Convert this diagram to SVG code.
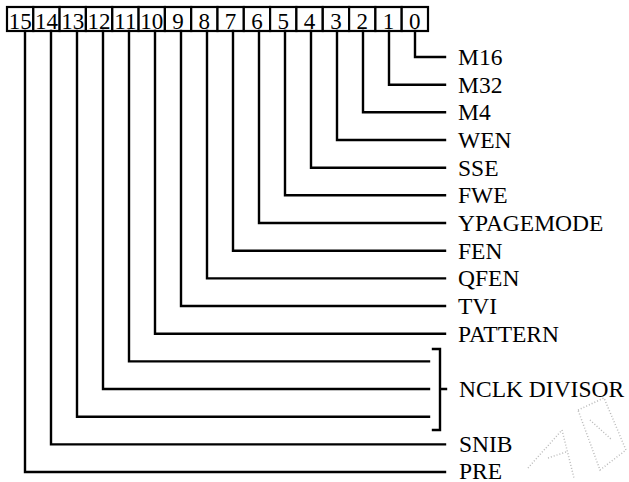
<svg xmlns="http://www.w3.org/2000/svg" width="629" height="482" viewBox="0 0 629 482">
<style>
.box{fill:#fff;stroke:#000;stroke-width:2.2}
.dig{font-size:23px;text-anchor:middle;fill:#000}
.lbl{font-size:23.5px;fill:#000}
.w{fill:none;stroke:#000;stroke-width:2.4;stroke-linecap:square}
.wm{fill:none;stroke:#bbb;stroke-width:1.5;stroke-dasharray:1 2}
</style>
<rect width="629" height="482" fill="#fff"/>
<g id="register" font-family="Liberation Serif, Times New Roman, Tinos, Times, Noto Serif, DejaVu Serif, serif">
<g id="b15"><rect class="box" x="7" y="7" width="26.3" height="24"/><text class="dig" x="20.2" y="28.5">15</text></g>
<g id="b14"><rect class="box" x="33.3" y="7" width="26.3" height="24"/><text class="dig" x="46.5" y="28.5">14</text></g>
<g id="b13"><rect class="box" x="59.6" y="7" width="26.3" height="24"/><text class="dig" x="72.8" y="28.5">13</text></g>
<g id="b12"><rect class="box" x="85.9" y="7" width="26.3" height="24"/><text class="dig" x="99.1" y="28.5">12</text></g>
<g id="b11"><rect class="box" x="112.3" y="7" width="26.3" height="24"/><text class="dig" x="125.4" y="28.5">11</text></g>
<g id="b10"><rect class="box" x="138.6" y="7" width="26.3" height="24"/><text class="dig" x="151.7" y="28.5">10</text></g>
<g id="b9"><rect class="box" x="164.9" y="7" width="26.3" height="24"/><text class="dig" x="178" y="28.5">9</text></g>
<g id="b8"><rect class="box" x="191.2" y="7" width="26.3" height="24"/><text class="dig" x="204.3" y="28.5">8</text></g>
<g id="b7"><rect class="box" x="217.5" y="7" width="26.3" height="24"/><text class="dig" x="230.6" y="28.5">7</text></g>
<g id="b6"><rect class="box" x="243.8" y="7" width="26.3" height="24"/><text class="dig" x="256.9" y="28.5">6</text></g>
<g id="b5"><rect class="box" x="270.1" y="7" width="26.3" height="24"/><text class="dig" x="283.3" y="28.5">5</text></g>
<g id="b4"><rect class="box" x="296.4" y="7" width="26.3" height="24"/><text class="dig" x="309.6" y="28.5">4</text></g>
<g id="b3"><rect class="box" x="322.8" y="7" width="26.3" height="24"/><text class="dig" x="335.9" y="28.5">3</text></g>
<g id="b2"><rect class="box" x="349.1" y="7" width="26.3" height="24"/><text class="dig" x="362.2" y="28.5">2</text></g>
<g id="b1"><rect class="box" x="375.4" y="7" width="26.3" height="24"/><text class="dig" x="388.5" y="28.5">1</text></g>
<g id="b0"><rect class="box" x="401.7" y="7" width="26.3" height="24"/><text class="dig" x="414.8" y="28.5">0</text></g>
</g>
<g id="connectors">
<path class="w" d="M415 31V57H445"/>
<path class="w" d="M389 31V84.7H445"/>
<path class="w" d="M363 31V112.3H445"/>
<path class="w" d="M337 31V140H445"/>
<path class="w" d="M311 31V167.7H445"/>
<path class="w" d="M285 31V195.3H445"/>
<path class="w" d="M259 31V223H445"/>
<path class="w" d="M233 31V250.7H445"/>
<path class="w" d="M207 31V278.4H445"/>
<path class="w" d="M181 31V306H445"/>
<path class="w" d="M155 31V333.7H445"/>
<path class="w" d="M129 31V361.4H429"/>
<path class="w" d="M103 31V389H429"/>
<path class="w" d="M77 31V416.7H429"/>
<path class="w" d="M51 31V444.4H445"/>
<path class="w" d="M25 31V472H445"/>
<path class="w" d="M433 349H440V430H433M440 389H446"/>
</g>
<g id="labels" font-family="Liberation Serif, Times New Roman, Tinos, Times, Noto Serif, DejaVu Serif, serif">
<g id="l-m16"><text class="lbl" x="458" y="64.8">M16</text></g>
<g id="l-m32"><text class="lbl" x="458" y="92.5">M32</text></g>
<g id="l-m4"><text class="lbl" x="458" y="120.1">M4</text></g>
<g id="l-wen"><text class="lbl" x="458" y="147.8">WEN</text></g>
<g id="l-sse"><text class="lbl" x="458" y="175.5">SSE</text></g>
<g id="l-fwe"><text class="lbl" x="458" y="203.1">FWE</text></g>
<g id="l-ypagemode"><text class="lbl" x="458" y="230.8">YPAGEMODE</text></g>
<g id="l-fen"><text class="lbl" x="458" y="258.5">FEN</text></g>
<g id="l-qfen"><text class="lbl" x="458" y="286.2">QFEN</text></g>
<g id="l-tvi"><text class="lbl" x="458" y="313.8">TVI</text></g>
<g id="l-pattern"><text class="lbl" x="458" y="341.5">PATTERN</text></g>
<g id="l-nclk"><text class="lbl" x="459" y="396.8">NCLK DIVISOR</text></g>
<g id="l-snib"><text class="lbl" x="459" y="452.2">SNIB</text></g>
<g id="l-pre"><text class="lbl" x="459" y="478.5">PRE</text></g>
</g>
<path class="wm" d="M528 468L562 430L574 478M548 458L566 452M578 410L604 398L626 450L600 470ZM590 420L612 440"/>
</svg>
